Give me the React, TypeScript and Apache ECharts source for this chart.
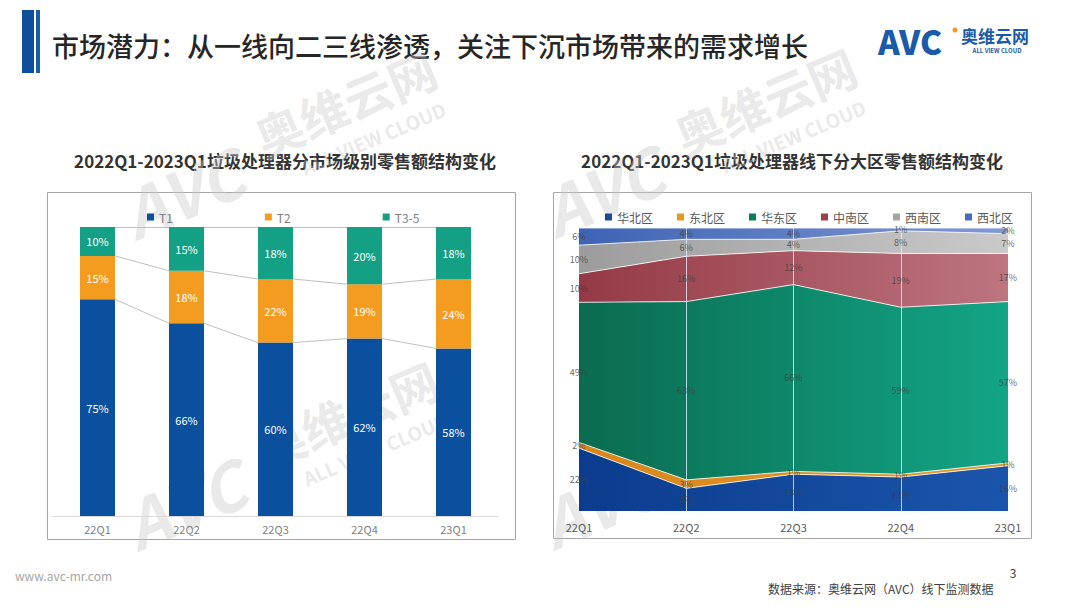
import React, { useEffect, useRef } from 'react';
import * as echarts from 'echarts';

// ---- Left chart data (market tiers, % share) ----
const barCats = ['22Q1', '22Q2', '22Q3', '22Q4', '23Q1'];
const tierNames = ['T1', 'T2', 'T3-5'];
const t1 = [75, 66, 60, 62, 58];
const t2 = [15, 18, 22, 19, 24];
const t35 = [10, 15, 18, 20, 18];

// ---- Right chart data (regions, % share) ----
const areaCats = ['22Q1', '22Q2', '22Q3', '22Q4', '23Q1'];
const regionNames = ['华北区', '东北区', '华东区', '中南区', '西南区', '西北区'];
const huabei = [22, 8, 13, 12, 16];
const dongbei = [2, 3, 1, 1, 1];
const huadong = [49, 63, 66, 59, 57];
const zhongnan = [10, 16, 12, 19, 17];
const xinan = [10, 6, 4, 8, 7];
const xibei = [6, 4, 4, 1, 2];

const FONT = "'Noto Sans CJK SC', 'Liberation Sans', sans-serif";

function normalize(groups: number[][]): number[][] {
  const n = groups[0].length;
  const totals: number[] = [];
  for (let j = 0; j < n; j++) {
    let s = 0;
    groups.forEach((g) => (s += g[j]));
    totals.push(s);
  }
  return groups.map((g) => g.map((v, j) => (v / totals[j]) * 100));
}

function watermark(cx: number, cy: number) {
  const fill = 'rgba(200,200,200,0.4)';
  return {
    type: 'group',
    x: cx,
    y: cy,
    rotation: 0.4,
    z: 50,
    silent: true,
    children: [
      {
        type: 'text',
        x: -185,
        y: 18,
        style: { text: 'AVC', fill, font: `italic bold 66px ${FONT}`, align: 'center', verticalAlign: 'middle' },
      },
      {
        type: 'text',
        x: 0,
        y: 0,
        style: { text: '奥维云网', fill, font: `bold 48px ${FONT}`, align: 'center', verticalAlign: 'middle' },
      },
      {
        type: 'text',
        x: 12,
        y: 44,
        style: { text: 'ALL VIEW CLOUD', fill, font: `bold 19px ${FONT}`, align: 'center', verticalAlign: 'middle' },
      },
    ],
  };
}

export default function App() {
  const ref = useRef<HTMLDivElement>(null);

  useEffect(() => {
    const chart = echarts.init(ref.current!, null, { renderer: 'svg' });

    // left chart
    const tierRaw = [t1, t2, t35];
    const tierNorm = normalize(tierRaw);
    const tierColors = ['#0b4f9f', '#f39c1f', '#14a085'];
    const half = 17.5 / 89;
    const cumLevels: number[][] = [];
    let acc = barCats.map(() => 0);
    tierNorm.forEach((arr) => {
      acc = acc.map((a, j) => a + arr[j]);
      cumLevels.push(acc.slice());
    });
    const seriesLinesData: any[] = [];
    cumLevels.forEach((lvl) => {
      for (let i = 0; i < barCats.length - 1; i++) {
        seriesLinesData.push({ coords: [[i + half, Math.min(lvl[i], 99.8)], [i + 1 - half, Math.min(lvl[i + 1], 99.8)]] });
      }
    });

    const barSeries = tierNames.map((name, k) => ({
      name,
      type: 'bar',
      stack: 'tier',
      xAxisIndex: 0,
      yAxisIndex: 0,
      barWidth: 35,
      itemStyle: { color: tierColors[k] },
      label: {
        show: true,
        position: 'inside',
        color: '#ffffff',
        fontSize: 11,
        fontFamily: FONT,
        formatter: (p: any) => tierRaw[k][p.dataIndex] + '%',
      },
      data: tierNorm[k],
    }));

    // right chart
    const regionRaw = [huabei, dongbei, huadong, zhongnan, xinan, xibei];
    const regionNorm = normalize(regionRaw);
    const regionSolid = ['#1a4a98', '#e39a1c', '#0f7a5c', '#a0404d', '#a6a6a6', '#4a6cbd'];
    const regionGrad = [
      ['#0b3c8e', '#1b55ab'],
      ['#d9861a', '#e39a2a'],
      ['#0a6b4f', '#13a586'],
      ['#943a46', '#bd757f'],
      ['#9c9c9c', '#cacaca'],
      ['#3e63b4', '#8299d6'],
    ];
    const areaSeries: any[] = regionNames.map((name, k) => ({
      name,
      type: 'line',
      stack: 'region',
      xAxisIndex: 2,
      yAxisIndex: 1,
      symbol: 'none',
      silent: true,
      itemStyle: { color: regionSolid[k] },
      lineStyle: { color: 'rgba(255,255,255,0.8)', width: 1 },
      areaStyle: {
        opacity: 1,
        color: new echarts.graphic.LinearGradient(0, 0, 1, 0, [
          { offset: 0, color: regionGrad[k][0] },
          { offset: 1, color: regionGrad[k][1] },
        ]),
      },
      data: regionNorm[k],
      z: 2,
    }));
    areaSeries[areaSeries.length - 1].markLine = {
      silent: true,
      symbol: 'none',
      label: { show: false },
      lineStyle: { color: 'rgba(225,238,255,0.8)', width: 1, type: 'solid' },
      data: [{ xAxis: '22Q2' }, { xAxis: '22Q3' }, { xAxis: '22Q4' }],
      z: 5,
    };

    const labelPts: any[] = [];
    const base = areaCats.map(() => 0);
    regionNorm.forEach((arr, k) => {
      arr.forEach((v, j) => {
        labelPts.push({ value: [j, base[j] + v / 2], txt: regionRaw[k][j] + '%' });
        base[j] += v;
      });
    });

    const option: any = {
      animation: false,
      backgroundColor: '#ffffff',
      textStyle: { fontFamily: FONT },
      grid: [
        { left: 53, right: 582, top: 227, bottom: 92 },
        { left: 579, right: 72, top: 228, bottom: 97 },
      ],
      xAxis: [
        {
          type: 'category',
          gridIndex: 0,
          data: barCats,
          axisLine: { lineStyle: { color: '#d9d9d9' } },
          axisTick: { show: false },
          axisLabel: { color: '#7f7f7f', fontSize: 11, margin: 7, fontFamily: FONT },
        },
        { type: 'value', gridIndex: 0, min: -0.5, max: 4.5, show: false },
        {
          type: 'category',
          gridIndex: 1,
          data: areaCats,
          boundaryGap: false,
          axisLine: { show: false },
          axisTick: { show: false },
          splitLine: { show: false },
          axisLabel: { color: '#595959', fontSize: 11, margin: 10, fontFamily: FONT },
        },
      ],
      yAxis: [
        { type: 'value', gridIndex: 0, min: 0, max: 100, show: false },
        { type: 'value', gridIndex: 1, min: 0, max: 100, show: false },
      ],
      legend: [
        {
          data: tierNames.map((n, k) => ({ name: n, itemStyle: { color: tierColors[k] } })),
          left: 142,
          top: 206,
          icon: 'rect',
          itemWidth: 7,
          itemHeight: 7,
          itemGap: 92,
          selectedMode: false,
          textStyle: { color: '#7f7f7f', fontSize: 12, fontFamily: FONT },
        },
        {
          data: regionNames.map((n, k) => ({ name: n, itemStyle: { color: regionSolid[k] } })),
          left: 600,
          top: 206,
          icon: 'rect',
          itemWidth: 7,
          itemHeight: 7,
          itemGap: 24,
          selectedMode: false,
          textStyle: { color: '#595959', fontSize: 12, fontFamily: FONT },
        },
      ],
      series: [
        ...barSeries,
        {
          type: 'lines',
          coordinateSystem: 'cartesian2d',
          xAxisIndex: 1,
          yAxisIndex: 0,
          silent: true,
          lineStyle: { color: '#bfbfbf', width: 1, opacity: 1 },
          data: seriesLinesData,
          z: 1,
        },
        ...areaSeries,
        {
          type: 'scatter',
          xAxisIndex: 2,
          yAxisIndex: 1,
          symbolSize: 1,
          silent: true,
          itemStyle: { color: 'rgba(0,0,0,0)' },
          label: {
            show: true,
            position: 'inside',
            color: '#404040',
            fontSize: 9,
            lineHeight: 10,
            fontFamily: FONT,
            formatter: (p: any) => p.data.txt,
          },
          data: labelPts,
          z: 10,
        },
      ],
      graphic: [
        // header bars
        { type: 'rect', shape: { x: 22, y: 10, width: 12, height: 63 }, style: { fill: '#0e4f9c' } },
        { type: 'rect', shape: { x: 36, y: 10, width: 4, height: 63 }, style: { fill: '#1a5da8' } },
        {
          type: 'text',
          x: 52,
          y: 45,
          style: {
            text: '市场潜力：从一线向二三线渗透，关注下沉市场带来的需求增长',
            fill: '#262626',
            font: `500 27px ${FONT}`,
            verticalAlign: 'middle',
          },
        },
        // logo
        {
          type: 'text',
          x: 878,
          y: 41,
          style: { text: 'AVC', fill: '#1b5aa8', font: `900 33px ${FONT}`, verticalAlign: 'middle' },
        },
        { type: 'circle', shape: { cx: 955, cy: 30, r: 2.5 }, style: { fill: '#f29a1f' } },
        {
          type: 'text',
          x: 961,
          y: 35,
          style: { text: '奥维云网', fill: '#1b5aa8', font: `bold 17px ${FONT}`, verticalAlign: 'middle' },
        },
        {
          type: 'text',
          x: 997,
          y: 50,
          style: { text: 'ALL VIEW CLOUD', fill: '#1b5aa8', font: `bold 6px ${FONT}`, align: 'center', verticalAlign: 'middle' },
        },
        // subtitles
        {
          type: 'text',
          x: 285,
          y: 160,
          style: {
            text: '2022Q1-2023Q1垃圾处理器分市场级别零售额结构变化',
            fill: '#333333',
            font: `bold 17px ${FONT}`,
            align: 'center',
            verticalAlign: 'middle',
          },
        },
        {
          type: 'text',
          x: 792,
          y: 160,
          style: {
            text: '2022Q1-2023Q1垃圾处理器线下分大区零售额结构变化',
            fill: '#333333',
            font: `bold 17px ${FONT}`,
            align: 'center',
            verticalAlign: 'middle',
          },
        },
        // boxes
        {
          type: 'rect',
          shape: { x: 47.5, y: 192.5, width: 468, height: 347 },
          style: { fill: 'none', stroke: '#a6a6a6', lineWidth: 1 },
        },
        {
          type: 'rect',
          shape: { x: 553.5, y: 192.5, width: 478, height: 346 },
          style: { fill: 'none', stroke: '#a6a6a6', lineWidth: 1 },
        },
        // footer
        {
          type: 'text',
          x: 15,
          y: 575,
          style: { text: 'www.avc-mr.com', fill: '#a6a6a6', font: `12px ${FONT}`, verticalAlign: 'middle' },
        },
        {
          type: 'text',
          x: 768,
          y: 588,
          style: { text: '数据来源：奥维云网（AVC）线下监测数据', fill: '#404040', font: `12px ${FONT}`, verticalAlign: 'middle' },
        },
        {
          type: 'text',
          x: 1013,
          y: 572,
          style: { text: '3', fill: '#404040', font: `12px ${FONT}`, align: 'center', verticalAlign: 'middle' },
        },
        // watermarks
        watermark(345, 102),
        watermark(765, 100),
        watermark(347, 413),
        watermark(763, 412),
      ],
    };

    chart.setOption(option);
    return () => chart.dispose();
  }, []);

  return (
    <div
      ref={ref}
      style={{ position: 'absolute', left: 0, top: 0, width: 1080, height: 608, background: '#ffffff' }}
    />
  );
}
